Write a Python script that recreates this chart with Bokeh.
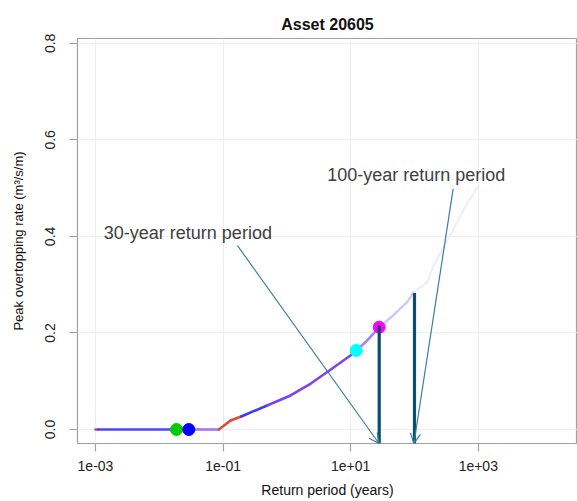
from bokeh.plotting import figure
from bokeh.models import Range1d, FixedTicker, Label, Arrow, OpenHead
from bokeh.embed import file_html
from bokeh.resources import INLINE

TITLE = "Asset 20605"
X_LABEL = "Return period (years)"
Y_LABEL = "Peak overtopping rate (m³/s/m)"

X_TICKS = [1e-3, 1e-1, 1e1, 1e3, 1e5]
X_TICK_LABELS = ["1e-03", "1e-01", "1e+01", "1e+03", "1e+05"]
Y_TICKS = [0.0, 0.2, 0.4, 0.6, 0.8]
Y_TICK_LABELS = ["0.0", "0.2", "0.4", "0.6", "0.8"]

# curve (return period, peak overtopping rate)
CURVE_X = [0.001, 0.0011, 0.0186, 0.029, 0.0857, 0.131, 0.192, 0.49, 1.14, 2.34,
           4.82, 9.9, 12.2, 18.2, 28.0, 42.0, 76.7, 97.5, 158.0, 200.0, 288.0,
           670.0, 1019.0]
CURVE_Y = [0.0, 0.0, 0.0, 0.0, 0.0, 0.0187, 0.027, 0.0497, 0.0705, 0.0947,
           0.1237, 0.1534, 0.1637, 0.1845, 0.212, 0.2315, 0.264, 0.2846, 0.305,
           0.34, 0.378, 0.468, 0.506]
# colour segments: (start index, end index, colour, width)
SEGMENTS = [(0, 1, "#e04a3a", 2.6), (1, 2, "#4a4af2", 2.6), (2, 3, "#6a50f0", 2.6),
            (3, 4, "#a072f2", 2.6), (4, 6, "#e0483c", 2.6), (6, 7, "#3c3cf0", 2.6),
            (7, 12, "#7a44f2", 2.6), (12, 14, "#a585f6", 2.6),
            (14, 17, "#d2c6fc", 2.4), (17, 22, "#efebfe", 2.0)]

POINT_X = [0.0186, 0.029, 12.2, 28.0]
POINT_Y = [0.0, 0.0, 0.1637, 0.212]
POINT_COLORS = ["#00cc00", "#0000ff", "#00ffff", "#ff00ff"]

BAR_X = [28.0, 100.0]
BAR_TOP = [0.216, 0.283]
BAR_BOTTOM = [-0.029, -0.029]

ANNOT_TEXT = ["30-year return period", "100-year return period"]
ANNOT_X = [0.00135, 4.29]
ANNOT_Y = [0.407, 0.527]
ARROW_X0 = [0.168, 404.0]
ARROW_Y0 = [0.381, 0.499]
ARROW_X1 = [27.8, 98.0]
ARROW_Y1 = [-0.029, -0.029]

FONT = "Liberation Sans"

p = figure(width=577, height=501, x_axis_type="log",
           x_range=Range1d(10 ** -3.282, 10 ** 4.555),
           y_range=Range1d(-0.029, 0.810),
           output_backend="svg", toolbar_location=None,
           min_border_left=77, min_border_right=0,
           min_border_top=38, min_border_bottom=58)
p.background_fill_color = "white"
p.border_fill_color = "white"
p.outline_line_color = "#a0a0a0"
p.outline_line_width = 1.2

p.title.text = TITLE
p.title.align = "center"
p.title.text_font = FONT
p.title.text_font_size = "16px"
p.title.text_font_style = "bold"
p.title.text_color = "#111111"
p.title.standoff = 11

for ax, ticks, labels in ((p.xaxis[0], X_TICKS, X_TICK_LABELS),
                          (p.yaxis[0], Y_TICKS, Y_TICK_LABELS)):
    ax.ticker = FixedTicker(ticks=ticks)
    ax.major_label_overrides = {t: l for t, l in zip(ticks, labels)}
    ax.axis_line_color = None
    ax.major_tick_line_color = "#a0a0a0"
    ax.major_tick_line_width = 1.2
    ax.major_tick_out = 8
    ax.major_tick_in = 0
    ax.minor_tick_line_color = None
    ax.major_label_text_font = FONT
    ax.major_label_text_font_size = "14px"
    ax.major_label_text_color = "#222222"
    ax.axis_label_text_font = FONT
    ax.axis_label_text_font_style = "normal"
    ax.axis_label_text_color = "#111111"

p.xaxis.axis_label = X_LABEL
p.xaxis.major_label_standoff = 9
p.xaxis.axis_label_standoff = 8
p.xaxis.axis_label_text_font_size = "14px"
p.yaxis.axis_label = Y_LABEL
p.yaxis.major_label_orientation = "parallel"
p.yaxis.major_label_standoff = 14
p.yaxis.axis_label_standoff = 17
p.yaxis.axis_label_text_font_size = "13px"

p.xgrid.ticker = FixedTicker(ticks=X_TICKS)
p.ygrid.ticker = FixedTicker(ticks=Y_TICKS)
p.xgrid.grid_line_color = "#ededed"
p.ygrid.grid_line_color = "#ededed"

for i0, i1, col, w in SEGMENTS:
    p.line(CURVE_X[i0:i1 + 1], CURVE_Y[i0:i1 + 1], line_color=col,
           line_width=w, line_cap="round")

p.scatter(POINT_X, POINT_Y, size=12, fill_color=POINT_COLORS,
          line_color=POINT_COLORS)

p.segment(x0=BAR_X, y0=BAR_BOTTOM, x1=BAR_X, y1=BAR_TOP,
          line_color="#0b4d6b", line_width=3.2)

for xs, ys, xe, ye in zip(ARROW_X0, ARROW_Y0, ARROW_X1, ARROW_Y1):
    p.add_layout(Arrow(end=OpenHead(size=10, line_color="#3a7f98", line_width=1.2),
                       x_start=xs, y_start=ys, x_end=xe, y_end=ye,
                       line_color="#3a7f98", line_width=1.2))

for t, x, y in zip(ANNOT_TEXT, ANNOT_X, ANNOT_Y):
    p.add_layout(Label(x=x, y=y, text=t, text_font=FONT, text_font_size="18px",
                       text_color="#404040", text_baseline="alphabetic"))

open("out.html", "w").write(file_html(p, INLINE))
